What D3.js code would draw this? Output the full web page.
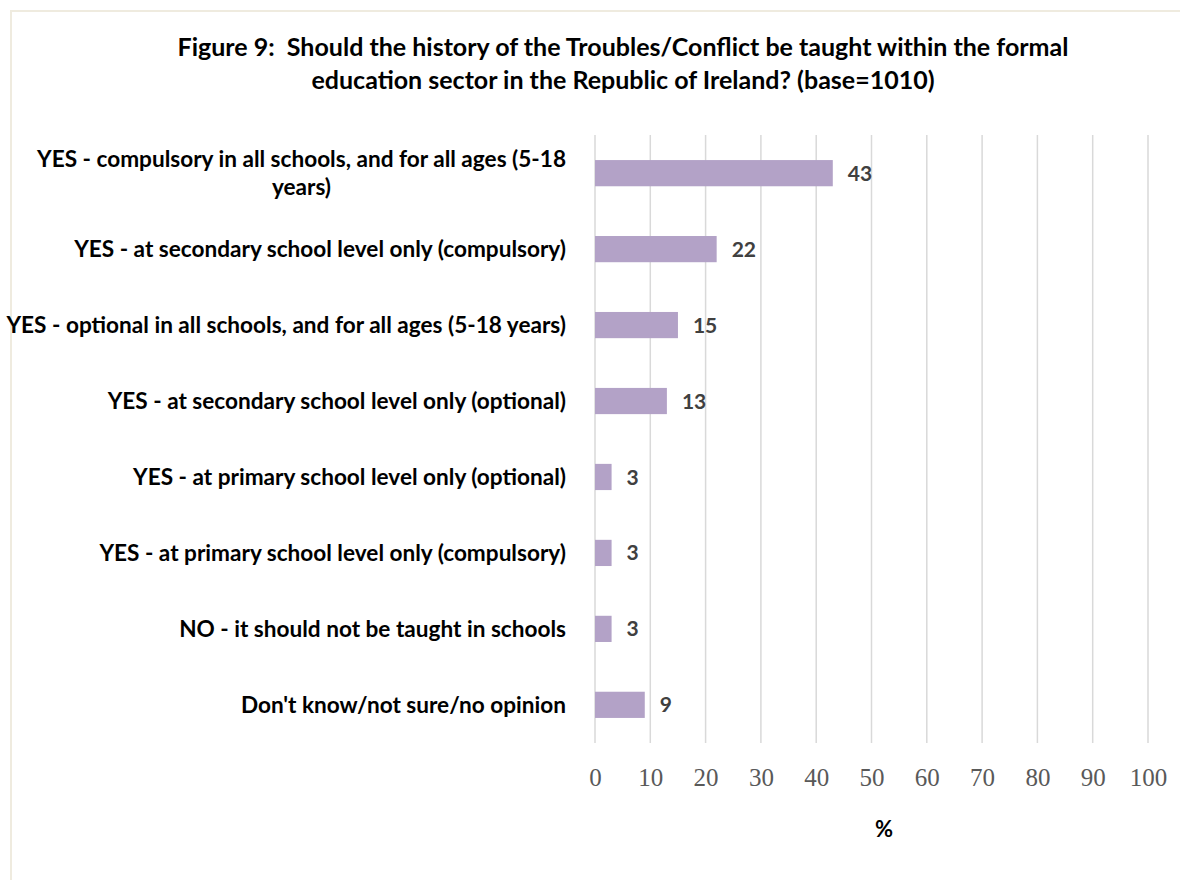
<!DOCTYPE html>
<html>
<head>
<meta charset="utf-8">
<script src="https://cdn.jsdelivr.net/npm/d3@7"></script>
<style>
  html, body { margin: 0; padding: 0; background: #ffffff; }
  svg { display: block; }
</style>
</head>
<body>
<svg id="chart" width="1180" height="880"></svg>
<script>
// Survey responses (percent of respondents, base = 1010)
const categories = [
  "YES - compulsory in all schools, and for all ages (5-18 years)",
  "YES - at secondary school level only (compulsory)",
  "YES - optional in all schools, and for all ages (5-18 years)",
  "YES - at secondary school level only (optional)",
  "YES - at primary school level only (optional)",
  "YES - at primary school level only (compulsory)",
  "NO - it should not be taught in schools",
  "Don't know/not sure/no opinion"
];
// Label lines where the category text wraps
const categoryLines = [
  ["YES - compulsory in all schools, and for all ages (5-18", "years)"],
  ["YES - at secondary school level only (compulsory)"],
  ["YES - optional in all schools, and for all ages (5-18 years)"],
  ["YES - at secondary school level only (optional)"],
  ["YES - at primary school level only (optional)"],
  ["YES - at primary school level only (compulsory)"],
  ["NO - it should not be taught in schools"],
  ["Don't know/not sure/no opinion"]
];
const values = [43, 22, 15, 13, 3, 3, 3, 9];
const xTicks = [0, 10, 20, 30, 40, 50, 60, 70, 80, 90, 100];
const titleLines = [
  "Figure 9:  Should the history of the Troubles/Conflict be taught within the formal",
  "education sector in the Republic of Ireland? (base=1010)"
];
const axisTitle = "%";

const svg = d3.select("#chart");
const W = 1180, H = 880;
const labelFont = "Lato, 'Open Sans', sans-serif";
const labelSize = 22.6;

// Outer frame
svg.append("rect")
  .attr("x", 11).attr("y", 11)
  .attr("width", W + 20).attr("height", H + 20)
  .attr("fill", "#ffffff")
  .attr("stroke", "#efebdf")
  .attr("stroke-width", 2);

// Plot area
const plot = { left: 595, right: 1148, top: 135, bottom: 743 };

const x = d3.scaleLinear().domain([0, 100]).range([plot.left, plot.right]);
const y = d3.scaleBand().domain(categories).range([plot.top, plot.bottom]).paddingInner(0.655).paddingOuter(0.33);

// Vertical gridlines
svg.append("g")
  .selectAll("line")
  .data(xTicks)
  .join("line")
  .attr("x1", d => x(d)).attr("x2", d => x(d))
  .attr("y1", plot.top).attr("y2", plot.bottom)
  .attr("stroke", "#d9d9d9")
  .attr("stroke-width", 1.5);

// X axis tick labels
const xAxis = d3.axisBottom(x).tickValues(xTicks).tickSize(0).tickPadding(0);
const gx = svg.append("g")
  .attr("transform", `translate(0, ${plot.bottom + 25})`)
  .call(xAxis);
gx.select(".domain").remove();
gx.selectAll("text")
  .attr("dy", "0.71em")
  .attr("font-family", "'Liberation Serif', 'DejaVu Serif', serif")
  .attr("font-size", 25)
  .attr("fill", "#595959");

// Bars
svg.append("g")
  .selectAll("rect")
  .data(categories)
  .join("rect")
  .attr("x", x(0))
  .attr("y", d => y(d))
  .attr("width", (d, i) => x(values[i]) - x(0))
  .attr("height", y.bandwidth())
  .attr("fill", "#b3a2c7");

// Value labels
svg.append("g")
  .selectAll("text")
  .data(categories)
  .join("text")
  .attr("x", (d, i) => x(values[i]) + 15)
  .attr("y", d => y(d) + y.bandwidth() / 2)
  .attr("dy", "0.36em")
  .attr("font-family", labelFont)
  .attr("font-weight", "bold")
  .attr("font-size", 21)
  .attr("fill", "#404040")
  .text((d, i) => values[i]);

// Category labels
const labelX = plot.left - 29;
const cat = svg.append("g")
  .selectAll("text")
  .data(categories)
  .join("text")
  .attr("x", labelX)
  .attr("y", d => y(d) + y.bandwidth() / 2)
  .attr("text-anchor", "end")
  .attr("font-family", labelFont)
  .attr("font-weight", "bold")
  .attr("font-size", labelSize)
  .attr("fill", "#000000");
cat.each(function(d, i) {
  const lines = categoryLines[i];
  const lh = 28;
  const t = d3.select(this);
  lines.forEach((ln, k) => {
    t.append("tspan")
      .attr("x", labelX)
      .attr("dy", k === 0 ? (0.36 * labelSize - (lines.length - 1) * lh / 2) : lh)
      .text(ln);
  });
});
// Centre the wrapped continuation line under the first line
cat.filter((d, i) => categoryLines[i].length > 1).each(function() {
  const spans = d3.select(this).selectAll("tspan").nodes();
  const w0 = spans[0].getComputedTextLength();
  spans.slice(1).forEach(s => {
    d3.select(s).attr("x", labelX - w0 / 2).attr("text-anchor", "middle");
  });
});

// Title
svg.append("text")
  .attr("x", 623)
  .attr("y", 56)
  .attr("text-anchor", "middle")
  .attr("font-family", labelFont)
  .attr("font-weight", "bold")
  .attr("font-size", 25)
  .attr("fill", "#000000")
  .selectAll("tspan")
  .data(titleLines)
  .join("tspan")
  .attr("x", 623)
  .attr("dy", (d, i) => i === 0 ? 0 : 33)
  .style("white-space", "pre")
  .text(d => d);

// Axis title
svg.append("text")
  .attr("x", 884)
  .attr("y", 837)
  .attr("text-anchor", "middle")
  .attr("font-family", labelFont)
  .attr("font-weight", "bold")
  .attr("font-size", 22)
  .attr("fill", "#000000")
  .text(axisTitle);
</script>
</body>
</html>
